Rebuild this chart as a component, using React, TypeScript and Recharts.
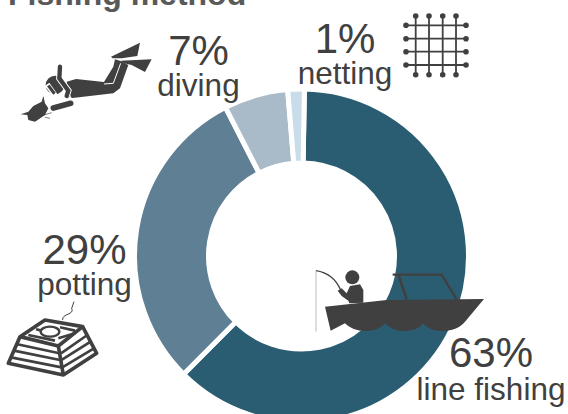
import { PieChart, Pie, Cell } from "recharts";

const methods = ["line fishing", "potting", "diving", "netting"];
const shares = [62.2, 30.0, 6.2, 1.6];
const shareLabels = ["63%", "29%", "7%", "1%"];
const colors = ["#2b5d72", "#5f7f95", "#a9bac8", "#c8dcea"];

const data = methods.map((name, i) => ({ name, value: shares[i] }));

const INK = "#404040";

// where each label block sits (centre x, percent baseline, name baseline)
const labelSpots = [
  [491, 367, 400],
  [84.5, 264, 295],
  [198.5, 65, 96],
  [345, 53, 84],
];

function Labels() {
  return (
    <>
      {methods.map((name, i) => (
        <g key={name} textAnchor="middle" fill={INK}>
          <text x={labelSpots[i][0]} y={labelSpots[i][1]} fontSize={42}>
            {shareLabels[i]}
          </text>
          <text x={labelSpots[i][0]} y={labelSpots[i][2]} fontSize={31.5}>
            {name}
          </text>
        </g>
      ))}
    </>
  );
}

function NetIcon() {
  const xs = [415.7, 429, 442.7, 456];
  const ys = [25.3, 38.7, 51.7, 65];
  return (
    <g fill={INK} stroke={INK}>
      {xs.map((x) => (
        <g key={x}>
          <line x1={x} x2={x} y1={16} y2={74.7} strokeWidth={1.8} />
          <circle cx={x} cy={16} r={2.8} strokeWidth={0} />
          <circle cx={x} cy={74.7} r={2.8} strokeWidth={0} />
        </g>
      ))}
      {ys.map((y) => (
        <g key={y}>
          <line y1={y} y2={y} x1={406} x2={466} strokeWidth={1.8} />
          <circle cx={406} cy={y} r={2.8} strokeWidth={0} />
          <circle cx={466} cy={y} r={2.8} strokeWidth={0} />
        </g>
      ))}
    </g>
  );
}

function DiverIcon() {
  return (
    <g transform="scale(0.3333)" fill={INK}>
      <path d="M333,170 L420,128 L412,168 L365,175 L338,175 Z" />
      <path d="M362,182 L455,178 L435,216 L395,195 L372,190 Z" />
      <path d="M200,245 L228,237 L312,246 L340,200 L345,178 L362,183 L385,195 L360,265 L340,280 L218,294 L205,290 Z" />
      <path d="M312,252 L340,250 L362,190" fill="none" stroke="#fff" strokeWidth={3} />
      <circle cx={165} cy={255} r={28} />
      <path d="M134,258 L148,248 L172,282 L160,290 Z" fill="#fff" />
      <path d="M141,259 L149,254 L167,278 L160,284 Z" />
      <path d="M180,200 L178,235 L205,272 L200,288" fill="none" stroke="#fff" strokeWidth={19} />
      <path d="M180,200 L178,235 L205,272 L200,288" fill="none" stroke={INK} strokeWidth={13} strokeLinecap="round" />
      <path d="M209,285 L218,310 L160,326" fill="none" stroke="#fff" strokeWidth={3} />
      <path d="M212,310 L160,324" fill="none" stroke={INK} strokeWidth={17} strokeLinecap="round" />
      <path d="M130,288 L135,310 L145,325 L135,345 L105,365 L85,360 L82,345 L62,343 L85,335 L100,318 L125,305 Z" />
      <path d="M132,345 L155,338 M135,352 L150,355" stroke={INK} strokeWidth={2} fill="none" />
    </g>
  );
}

function BoatIcon() {
  return (
    <g transform="translate(300 260) scale(0.3333)" fill={INK}>
      <path d="M75,140 L260,120 L552,117 L495,185 C480,205 450,213 425,213 C400,213 380,205 370,190 C355,208 335,213 312,213 C290,213 268,205 255,190 C240,208 220,213 197,213 C170,213 150,205 135,190 L92,212 Z" />
      <circle cx={157} cy={52} r={21} />
      <path d="M140,100 L150,78 L180,73 L190,90 L190,128 L148,130 L145,122 L125,108 L113,92 L125,85 Z" />
      <path d="M48,32 Q100,40 122,90" fill="none" stroke={INK} strokeWidth={4} />
      <path d="M48,32 L48,215" fill="none" stroke="#999" strokeWidth={2} />
      <path d="M278,44 L425,44 L470,118" fill="none" stroke={INK} strokeWidth={7} />
      <path d="M295,44 L320,118" fill="none" stroke={INK} strokeWidth={8} />
    </g>
  );
}

function PotIcon() {
  const stripes = [
    "M52,373 L178,400",
    "M42,392 L180,420",
    "M33,412 L185,442",
    "M183,400 L262,345",
    "M185,420 L272,365",
    "M187,442 L282,385",
    "M85,345 L165,362",
    "M108,328 L125,332",
    "M180,322 L225,332",
    "M175,355 L225,340",
  ];
  return (
    <g transform="translate(0 220) scale(0.3333)" fill="none" stroke={INK}>
      <path d="M188,300 C185,280 225,285 215,265 L222,245" strokeWidth={3} />
      <path d="M60,350 L135,300 L248,320 L175,378 Z M60,350 L25,430 L190,465 L175,378 M190,465 L290,400 L248,320" strokeWidth={11} strokeLinejoin="round" fill="#fff" />
      {stripes.map((d) => (
        <path key={d} d={d} strokeWidth={8} />
      ))}
      <ellipse cx={150} cy={335} rx={28} ry={15} strokeWidth={7} fill="#fff" />
    </g>
  );
}

export default function App() {
  return (
    <div style={{ position: "absolute", left: 0, top: 0, width: 568, height: 414, overflow: "hidden", background: "#fff", fontFamily: "'Liberation Sans', Arial, sans-serif" }}>
      <PieChart width={568} height={414} margin={{ top: 0, right: 0, bottom: 0, left: 0 }}>
        <Pie
          data={data}
          dataKey="value"
          nameKey="name"
          cx={301.5}
          cy={256}
          innerRadius={93}
          outerRadius={167}
          startAngle={89}
          endAngle={-271}
          stroke="#fff"
          strokeWidth={5}
          isAnimationActive={false}
        >
          {methods.map((name, i) => (
            <Cell key={name} fill={colors[i]} />
          ))}
        </Pie>
      </PieChart>
      <svg width={568} height={414} style={{ position: "absolute", left: 0, top: 0 }}>
        <text x={8} y={5} fontSize={32} fontWeight={700} fill="#595959">
          Fishing method
        </text>
        <Labels />
        <NetIcon />
        <DiverIcon />
        <BoatIcon />
        <PotIcon />
      </svg>
    </div>
  );
}
